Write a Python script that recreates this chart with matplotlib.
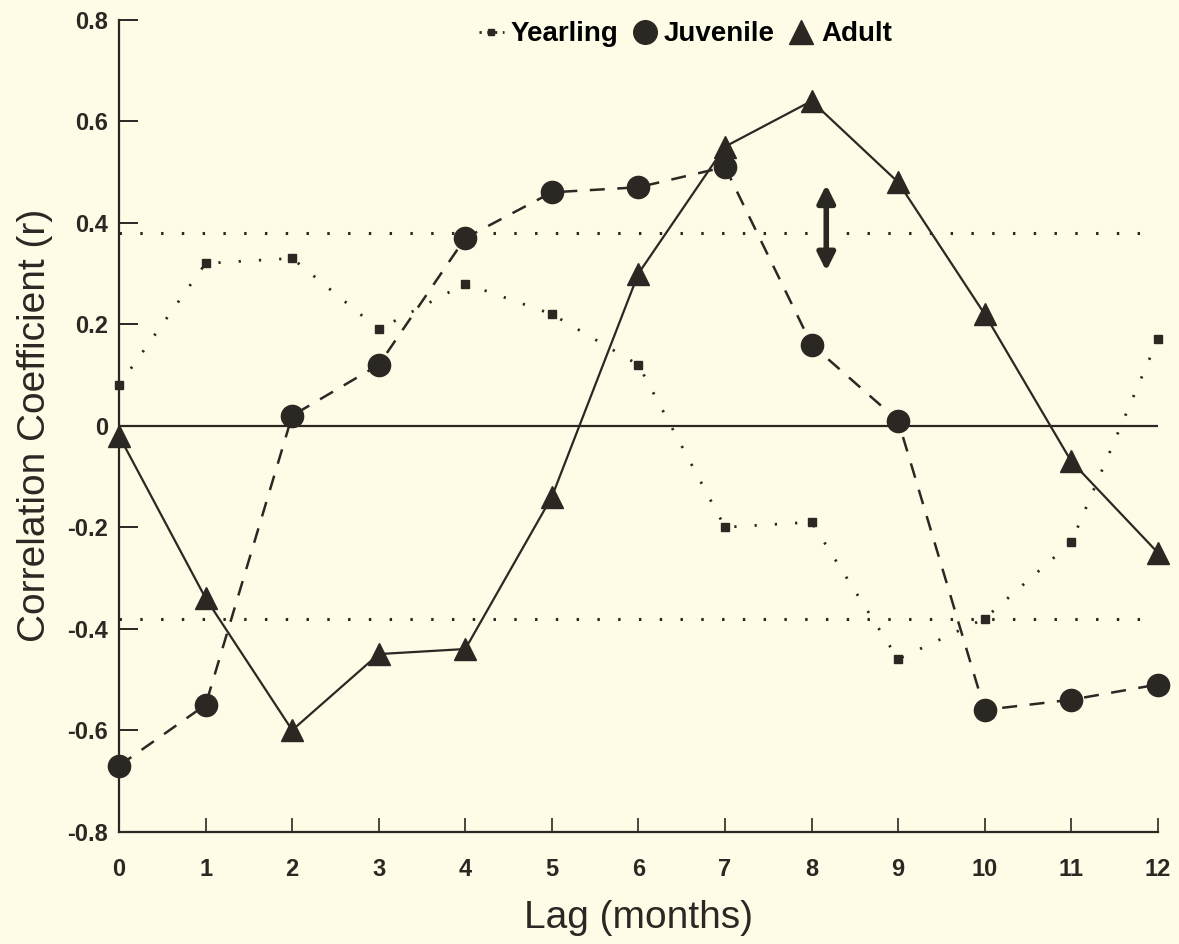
import numpy as np
import matplotlib.pyplot as plt
from matplotlib.lines import Line2D

lag = np.arange(0, 13)
yearling = [0.08, 0.32, 0.33, 0.19, 0.28, 0.22, 0.12, -0.20, -0.19, -0.46, -0.38, -0.23, 0.17]
juvenile = [-0.67, -0.55, 0.02, 0.12, 0.37, 0.46, 0.47, 0.51, 0.16, 0.01, -0.56, -0.54, -0.51]
adult = [-0.02, -0.34, -0.60, -0.45, -0.44, -0.14, 0.30, 0.55, 0.64, 0.48, 0.22, -0.07, -0.25]
sig_level = 0.38
yticks = [-0.8, -0.6, -0.4, -0.2, 0, 0.2, 0.4, 0.6, 0.8]
ytick_labels = ['-0.8', '-0.6', '-0.4', '-0.2', '0', '0.2', '0.4', '0.6', '0.8']

bg = '#fefbe6'
ink = '#2b2824'
plt.rcParams['font.family'] = ['Liberation Sans', 'DejaVu Sans']

fig = plt.figure(figsize=(11.79, 9.44), dpi=100, facecolor=bg)
ax = fig.add_axes([0.101, 0.119, 0.881, 0.860], facecolor=bg)

# zero line and +/- significance levels
ax.axhline(0, color=ink, lw=1.6, zorder=1)
ax.axhline(sig_level, color=ink, lw=2.2, ls=(0, (0.8, 6)), zorder=1)
ax.axhline(-sig_level, color=ink, lw=2.2, ls=(0, (0.8, 6)), zorder=1)

ax.plot(lag, yearling, color=ink, lw=2.0, ls=(0, (0.8, 6.5)), marker='s', ms=5.5,
        clip_on=False, zorder=3)
ax.plot(lag, juvenile, color=ink, lw=1.8, ls=(0, (6, 5)), marker='o', ms=16,
        clip_on=False, zorder=4)
ax.plot(lag, adult, color=ink, lw=1.6, ls='-', marker='^', ms=16,
        clip_on=False, zorder=5)

# double-headed arrow near lag 8
ax.annotate('', xy=(8.17, 0.305), xytext=(8.17, 0.475),
            arrowprops=dict(arrowstyle='<|-|>', color=ink, lw=4,
                            mutation_scale=26, shrinkA=0, shrinkB=0))

ax.set_xlim(0, 12)
ax.set_ylim(-0.8, 0.8)
ax.set_xticks(lag)
ax.set_yticks(yticks)
ax.set_yticklabels(ytick_labels)
for s in ['top', 'right']:
    ax.spines[s].set_visible(False)
for s in ['left', 'bottom']:
    ax.spines[s].set_linewidth(1.6)
    ax.spines[s].set_color(ink)
ax.tick_params(axis='y', direction='in', length=14, width=1.4, colors=ink,
               labelsize=17, pad=8)
ax.tick_params(axis='x', direction='in', length=10, width=1.2, colors=ink,
               labelsize=17, pad=19)
for lbl in ax.get_xticklabels() + ax.get_yticklabels():
    lbl.set_fontweight('bold')

ax.set_xlabel('Lag (months)', fontsize=28, color=ink, labelpad=14)
ax.set_ylabel('Correlation Coefficient (r)', fontsize=28, color=ink, labelpad=10)

handles = [
    Line2D([], [], color=ink, lw=2, ls=(0, (0.8, 2)), marker='s', ms=5,
           markevery=[0], label='Yearling'),
    Line2D([], [], color=ink, ls='none', marker='o', ms=17, label='Juvenile'),
    Line2D([], [], color=ink, ls='none', marker='^', ms=17, label='Adult'),
]
ax.legend(handles=handles, loc='center', bbox_to_anchor=(0.545, 0.982), ncol=3,
          frameon=False, handlelength=0.9, handletextpad=0.25, columnspacing=0.5,
          prop={'weight': 'bold', 'size': 20})

fig.savefig('out.png', dpi=100, facecolor=bg)
